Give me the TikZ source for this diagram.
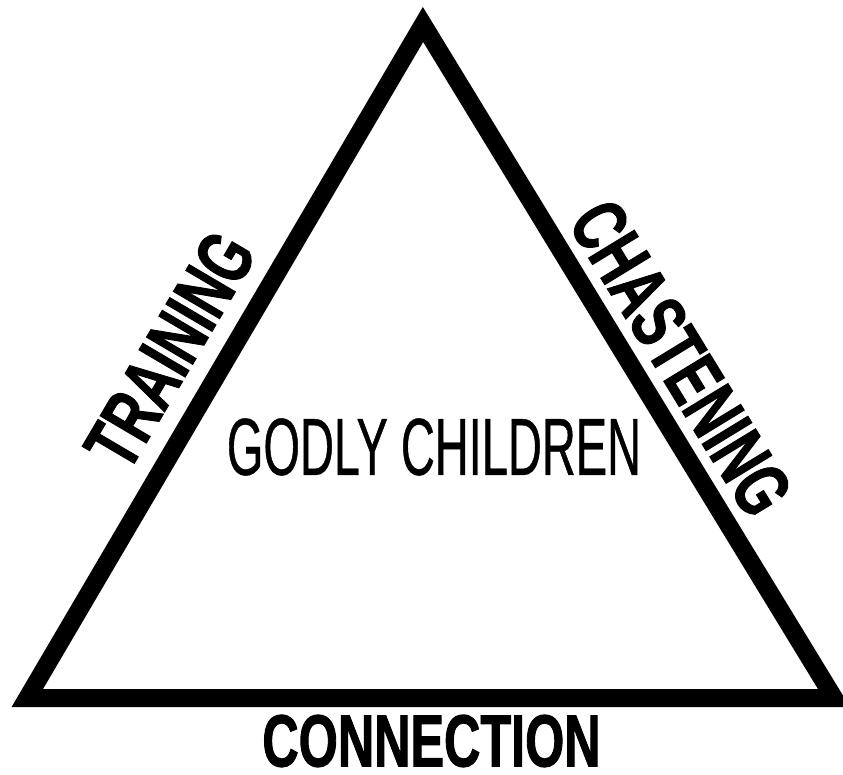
\documentclass[tikz,border=0pt]{standalone}
\usepackage{fontspec}
\newfontfamily\sidefont[FakeStretch=0.68, FakeBold=1.2]{Liberation Sans}
\newfontfamily\middlefont[FakeStretch=0.58, FakeBold=0.5]{Liberation Sans}
\usepackage{tikz}
\usetikzlibrary{calc}

\begin{document}
\begin{tikzpicture}[
    x=1pt, y=-1pt,
    side/.style={line width=18pt, line join=miter, draw=black},
    sidelabel/.style={inner sep=0pt, font=\sidefont\bfseries\fontsize{78}{84}\selectfont},
    baselabel/.style={inner sep=0pt, font=\sidefont\bfseries\fontsize{74}{80}\selectfont},
    centerlabel/.style={inner sep=0pt, font=\middlefont\fontsize{81}{88}\selectfont},
]
    \useasboundingbox (0,0) rectangle (843,775);

    % corners of the triangle (centre of the stroke)
    \coordinate (apex) at (423,24.5);
    \coordinate (left) at (27.3,698);
    \coordinate (right) at (834,698);

    \draw[side] (left) -- (apex) -- (right) -- cycle;

    % labels on the three sides
    \node[sidelabel, rotate=59.5] (training) at (170,350) {TRAINING};
    \node[sidelabel, rotate=-58.6] (chastening) at (681,358) {CHASTENING};
    \node[baselabel] (connection) at (431.5,741) {CONNECTION};

    \node[centerlabel] (godly) at (434,447) {GODLY CHILDREN};
\end{tikzpicture}
\end{document}
